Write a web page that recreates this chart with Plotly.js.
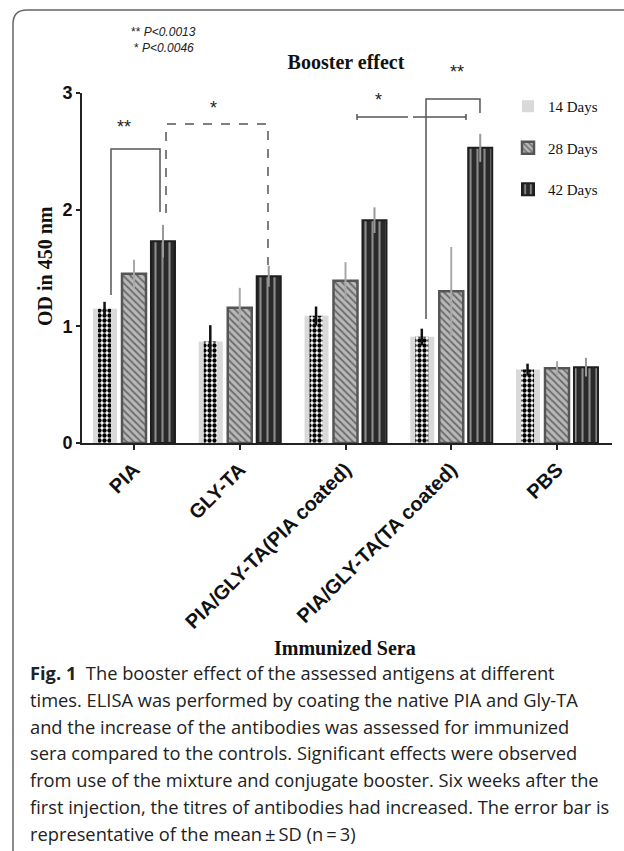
<!DOCTYPE html>
<html>
<head>
<meta charset="utf-8">
<script src="https://cdn.plot.ly/plotly-3.0.1.min.js"></script>
<style>html,body{margin:0;padding:0;background:#fff;}#chart{width:624px;height:851px;}</style>
</head>
<body>
<div id="chart"></div>
<script>
// ---- data ----
const categories = ["PIA", "GLY-TA", "PIA/GLY-TA(PIA coated)", "PIA/GLY-TA(TA coated)", "PBS"];
const seriesNames = ["14 Days", "28 Days", "42 Days"];
const days14 = [1.15, 0.87, 1.09, 0.91, 0.63];
const days28 = [1.45, 1.16, 1.39, 1.30, 0.64];
const days42 = [1.73, 1.43, 1.91, 2.53, 0.65];
const err14 = [0.06, 0.14, 0.08, 0.07, 0.05];
const err28 = [0.12, 0.17, 0.16, 0.38, 0.06];
const err42 = [0.14, 0.09, 0.11, 0.12, 0.08];
const yTicks = [0, 1, 2, 3];
const pLegend = ["** <i>P<0.0013</i>", "* <i>P<0.0046</i>"];
const captionLines = [
  "<b>Fig. 1</b>\u00a0\u00a0The booster effect of the assessed antigens at different",
  "times. ELISA was performed by coating the native PIA and Gly-TA",
  "and the increase of the antibodies was assessed for immunized",
  "sera compared to the controls. Significant effects were observed",
  "from use of the mixture and conjugate booster. Six weeks after the",
  "first injection, the titres of antibodies had increased. The error bar is",
  "representative of the mean\u2009\u00b1\u2009SD (n\u2009=\u20093)"
];

// ---- layout helpers (pixel -> paper) ----
const L = 82, R = 612, T = 93, B = 443;
const px = x => (x - L) / (R - L);
const py = y => (B - y) / (B - T);
const P = pts => pts.map((p, i) => (i === 0 || p[2] ? 'M' : 'L') + px(p[0]).toFixed(4) + ',' + py(p[1]).toFixed(4)).join(' ');

const serif = "Liberation Serif, Times New Roman, serif";
const sans = "Liberation Sans, Arial, sans-serif";
const narrow = "Liberation Sans Narrow, Arial Narrow, Liberation Sans, Arial, sans-serif";

const W = 0.227;
const traces = [
  {
    type: 'bar', name: seriesNames[0], x: categories, y: days14,
    width: W, offset: -0.274 - W / 2, legendgroup: 'a',
    marker: { color: '#d9d9d9', line: { width: 0 } }
  },
  {
    type: 'bar', name: seriesNames[0], x: categories, y: days14,
    width: 0.123, offset: -0.274 - 0.066, legendgroup: 'a', showlegend: false,
    marker: { color: '#ffffff', line: { width: 0 },
      pattern: { shape: '.', fgcolor: '#000', bgcolor: '#fff', size: 5, solidity: 0.6, fillmode: 'replace' } },
    error_y: { type: 'data', array: err14, visible: true, color: '#111', thickness: 2.5, width: 0 }
  },
  {
    type: 'bar', name: seriesNames[1], x: categories, y: days28,
    width: W, offset: -W / 2, legendgroup: 'b',
    marker: { color: '#b3b3b3', line: { color: '#555', width: 2.5 },
      pattern: { shape: '\\', fgcolor: '#6a6a6a', bgcolor: '#b8b8b8', size: 5, solidity: 0.35, fillmode: 'replace' } },
    error_y: { type: 'data', array: err28, visible: true, color: '#a8a8a8', thickness: 2, width: 0 }
  },
  {
    type: 'bar', name: seriesNames[2], x: categories, y: days42,
    width: W, offset: 0.274 - W / 2, legendgroup: 'c',
    marker: { color: '#2a2a2a', line: { color: '#1e1e1e', width: 2 },
      pattern: { shape: '|', fgcolor: '#8c8c8c', bgcolor: '#2a2a2a', size: 7, solidity: 0.3, fillmode: 'replace' } },
    error_y: { type: 'data', array: err42, visible: true, color: '#999', thickness: 2, width: 0 }
  }
];

const line = { color: '#555', width: 1.5 };
const shapes = [
  // figure frame
  { type: 'path', xref: 'paper', yref: 'paper', line: { color: '#666', width: 1.5 },
    path: 'M' + px(13) + ',' + py(851) + ' L' + px(13) + ',' + py(24) + ' Q' + px(13) + ',' + py(10) + ' ' + px(27) + ',' + py(10) + ' L' + px(624) + ',' + py(10) },
  // significance brackets
  { type: 'path', xref: 'paper', yref: 'paper', line: line, path: P([[111, 295], [111, 149], [160, 149], [160, 212]]) },
  { type: 'path', xref: 'paper', yref: 'paper', line: { color: '#555', width: 1.5, dash: 'dash' }, path: P([[166, 213], [166, 124], [268, 124], [268, 265]]) },
  { type: 'path', xref: 'paper', yref: 'paper', line: line, path: P([[357, 117], [408, 117], [413, 117, 1], [466, 117], [357, 114, 1], [357, 120], [466, 114, 1], [466, 120]]) },
  { type: 'path', xref: 'paper', yref: 'paper', line: line, path: P([[426, 319], [426, 99], [480, 99], [480, 113]]) }
];

const ann = (text, x, y, font, extra) => Object.assign({
  text: text, xref: 'paper', yref: 'paper', x: px(x), y: py(y),
  xanchor: 'center', yanchor: 'middle', showarrow: false, font: font
}, extra || {});

const starFont = { family: sans, size: 18, color: '#222' };
const annotations = [
  ann(pLegend[0], 163, 32, { family: sans, size: 12, color: '#222' }),
  ann(pLegend[1], 164, 48, { family: sans, size: 12, color: '#222' }),
  ann('**', 124, 127, starFont),
  ann('*', 213, 108, starFont),
  ann('*', 378, 100, starFont),
  ann('**', 457, 72, starFont),
  ann('<b>OD in 450 nm</b>', 45, 266, { family: serif, size: 20, color: '#111' }, { textangle: -90 }),
  ann('<b>Immunized Sera</b>', 345, 648, { family: serif, size: 20, color: '#111' })
];
const capY = [672, 699, 726, 752, 779, 806, 833];
captionLines.forEach((t, i) => annotations.push(ann(t, 28, capY[i], { family: "Open Sans, Noto Sans, sans-serif", size: 18.3, color: '#222' }, { xanchor: 'left' })));

const layout = {
  width: 624, height: 851,
  margin: { l: L, r: 624 - R, t: T, b: 851 - B, pad: 0 },
  paper_bgcolor: '#fff', plot_bgcolor: '#fff',
  barmode: 'overlay',
  showlegend: true,
  title: { text: '<b>Booster effect</b>', x: 346 / 624, xanchor: 'center', y: 1 - 62 / 851, yanchor: 'middle',
    font: { family: serif, size: 20, color: '#111' } },
  xaxis: {
    type: 'category', range: [(L - 134) / 105.75, (R - 134) / 105.75],
    showline: true, linecolor: '#222', linewidth: 2, mirror: false,
    ticks: 'outside', ticklen: 5, tickwidth: 2, tickcolor: '#222',
    tickangle: -45, showgrid: false, zeroline: false,
    tickfont: { family: sans, size: 20, color: '#111', weight: 'bold' }
  },
  yaxis: {
    range: [0, 3], tickvals: yTicks, ticktext: yTicks.map(String),
    showline: true, linecolor: '#222', linewidth: 2,
    ticks: 'outside', ticklen: 4, tickwidth: 2, tickcolor: '#222',
    showgrid: false, zeroline: false,
    tickfont: { family: narrow, size: 18, color: '#111', weight: 'bold' }
  },
  legend: {
    x: px(508), xanchor: 'left', y: py(90), yanchor: 'top',
    bgcolor: 'rgba(0,0,0,0)', tracegroupgap: 19,
    font: { family: serif, size: 15, color: '#111' }
  },
  shapes: shapes,
  annotations: annotations
};

Plotly.newPlot('chart', traces, layout, { displayModeBar: false, staticPlot: true });
</script>
</body>
</html>
